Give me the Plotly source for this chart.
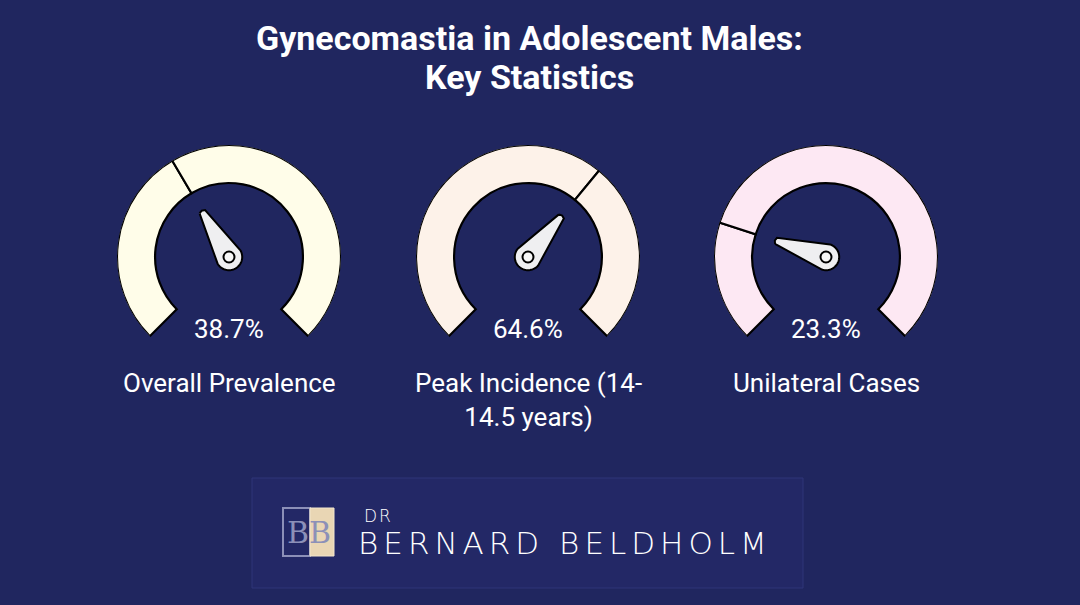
import numpy as np
import plotly.graph_objects as go

# gauge data
labels = ["Overall Prevalence", "Peak Incidence (14-<br>14.5 years)", "Unilateral Cases"]
values = [38.7, 64.6, 23.3]
value_text = ["38.7%", "64.6%", "23.3%"]
fills = ["#fffde9", "#fdf2e9", "#fde8f3"]
title_lines = ["Gynecomastia in Adolescent Males:", "Key Statistics"]

W, H = 1080, 605
centers_px = [229, 528, 826]
R_OUT = 112
INNER = 0.66
SWEEP = 270

fig = go.Figure()

for i, (v, col) in enumerate(zip(values, fills)):
    pid = "polar" if i == 0 else f"polar{i + 1}"
    t = v / 100 * SWEEP
    # ring: filled part + rest, split at the value
    fig.add_trace(go.Barpolar(
        r=[1 - INNER, 1 - INNER], base=[INNER, INNER],
        theta=[t / 2, (t + SWEEP) / 2], width=[t, SWEEP - t],
        marker=dict(color=col, line=dict(color="black", width=2.2)),
        subplot=pid, hoverinfo="skip", showlegend=False,
    ))
    # needle
    rb, rt = 0.118, 0.47
    back = np.linspace(t + 90, t + 270, 40)
    nr = [rt, rt + 0.01, rt] + [rb] * len(back) + [rt]
    nth = [t - 3.5, t, t + 3.5] + list(back) + [t - 3.5]
    fig.add_trace(go.Scatterpolar(
        r=nr, theta=nth, mode="lines", fill="toself",
        fillcolor="#efeff1", line=dict(color="black", width=2),
        subplot=pid, hoverinfo="skip", showlegend=False,
    ))
    fig.add_trace(go.Scatterpolar(
        r=[0], theta=[0], mode="markers",
        marker=dict(size=11, color="#f7f7f7", line=dict(color="black", width=2)),
        subplot=pid, hoverinfo="skip", showlegend=False,
    ))

    cx = centers_px[i]
    dom = dict(x=[(cx - R_OUT) / W, (cx + R_OUT) / W],
               y=[1 - (257 + R_OUT) / H, 1 - (257 - R_OUT) / H])
    fig.update_layout({pid: dict(
        domain=dom, bgcolor="rgba(0,0,0,0)", hole=0,
        radialaxis=dict(visible=False, range=[0, 1]),
        angularaxis=dict(visible=False, rotation=225, direction="clockwise",
                         thetaunit="degrees"),
    )})

    fig.add_annotation(x=cx / W, y=1 - 329 / H, xref="paper", yref="paper",
                       xanchor="center", yanchor="middle",
                       text=value_text[i], showarrow=False,
                       font=dict(family="Roboto", size=26, color="white"))
    fig.add_annotation(x=cx / W, y=1 - 366 / H, xref="paper", yref="paper",
                       xanchor="center", yanchor="top", text=labels[i], showarrow=False,
                       font=dict(family="Roboto", size=26, color="white"))

# title
for j, line in enumerate(title_lines):
    fig.add_annotation(x=529 / W, y=1 - (38 + 39 * j) / H, xref="paper", yref="paper",
                       xanchor="center", yanchor="middle",
                       text=f"<b>{line}</b>", showarrow=False,
                       font=dict(family="Roboto", size=34, color="white"))

# logo box
fig.add_shape(type="rect", xref="paper", yref="paper",
              x0=252 / W, x1=803 / W, y0=1 - 588 / H, y1=1 - 478 / H,
              fillcolor="#232866", line=dict(color="#2e3478", width=1))
fig.add_shape(type="rect", xref="paper", yref="paper",
              x0=283 / W, x1=310 / W, y0=1 - 556 / H, y1=1 - 508 / H,
              fillcolor="rgba(0,0,0,0)", line=dict(color="#8c90b8", width=2))
fig.add_shape(type="rect", xref="paper", yref="paper",
              x0=310 / W, x1=334 / W, y0=1 - 556 / H, y1=1 - 508 / H,
              fillcolor="#e9d6b4", line=dict(color="#f3e6cc", width=1))
fig.add_annotation(x=309 / W, y=1 - 532 / H, xref="paper", yref="paper",
                   xanchor="center", yanchor="middle",
                   text="BB", showarrow=False,
                   font=dict(family="DejaVu Serif", size=30, color="#8c90b8"))
fig.add_annotation(x=364 / W, y=1 - 516 / H, xref="paper", yref="paper",
                   xanchor="left", yanchor="middle", text="DR", showarrow=False,
                   font=dict(family="DejaVu Sans", size=17, color="white", weight=200))
fig.add_annotation(x=396 / W, y=1 - 543 / H, xref="paper", yref="paper",
                   xanchor="left", yanchor="middle", text="BERNARD BELDHOLM", showarrow=False,
                   font=dict(family="DejaVu Sans", size=31, color="white", weight=200))

fig.update_layout(
    width=W, height=H,
    margin=dict(l=0, r=0, t=0, b=0),
    paper_bgcolor="#20265f",
    plot_bgcolor="#20265f",
    showlegend=False,
)

js = """
document.body.style.margin='0';
document.body.style.overflow='hidden';
document.querySelectorAll('text.annotation-text').forEach(function(el){
  if (el.textContent === 'BERNARD BELDHOLM') el.style.letterSpacing = '5px';
  if (el.textContent === 'DR') el.style.letterSpacing = '2px';
});
"""
fig.write_html("out.html", config={"displayModeBar": False}, post_script=js)
